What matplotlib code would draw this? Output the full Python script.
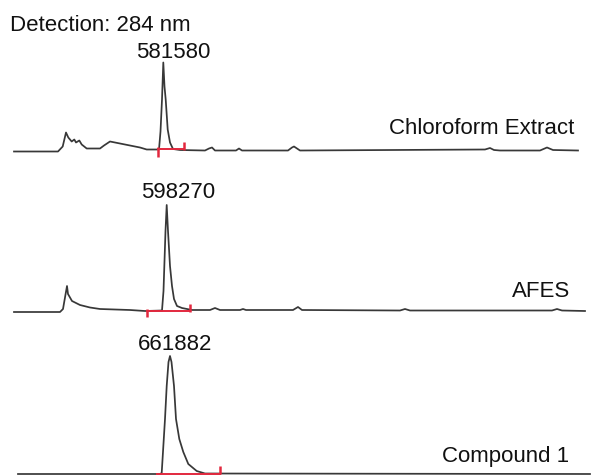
import matplotlib.pyplot as plt

plt.rcParams['font.family'] = ['Liberation Sans', 'DejaVu Sans']

# retention time (arbitrary units along the run) and detector signal for each trace
chloro_rt = [14, 58, 62.7, 66, 68.3, 71.7, 74.3, 76, 79.3, 81.7, 86.7, 100, 104, 110,
             120, 130, 140, 146.7, 155, 159, 160.5, 162, 163.3, 164.5, 165.7,
             167.7, 170, 173, 180, 205, 209, 212, 215, 236, 239, 242, 288, 292, 294,
             297, 300, 485, 490, 494, 500, 540, 547, 553, 578]
chloro_sig = [0, 0, 5, 19, 14, 10, 12, 9, 11, 7, 3, 3, 6, 10,
              8, 6, 4, 2, 2, 2, 20, 52, 89, 65, 52,
              22, 9, 2.5, 1.5, 1, 3, 4, 1, 1, 3, 1, 1, 4, 5,
              3, 1, 2, 3.5, 1.5, 1, 1, 4, 1.5, 1]

afes_rt = [14, 60, 63, 67, 68, 72, 80, 90, 100, 130, 145, 162, 163.5, 165.5, 166.7,
           168, 170, 172, 174, 177, 182, 187, 192, 210, 215, 220, 240, 243, 246,
           293, 298, 302, 400, 405, 410, 552, 557, 562, 585]
afes_sig = [-1, -1, 2, 25, 17, 10, 6, 3.5, 2, 1, 0, 0.5, 20, 80, 106,
            80, 45, 25, 12, 5, 3, 2, 1, 1, 3, 1, 1, 2, 1,
            1, 4, 1, 0.5, 2, 0.5, 0.5, 2, 0.5, 0]

cmpd_rt = [18, 160, 161.7, 165, 166.7, 168.5, 170, 171.5, 174, 176, 179.3, 183.3,
           188.3, 196.7, 205, 590]
cmpd_sig = [0, 0, 1, 55, 88, 112, 118, 112, 88, 55, 35, 22, 10, 3, 0.5, 0]

# integration events (start, end) per trace
chloro_int = [158, 184]
afes_int = [147, 190]
cmpd_int = [157, 220]

labels = ['Chloroform Extract', 'AFES', 'Compound 1']
peak_areas = ['581580', '598270', '661882']

fig = plt.figure(figsize=(5.92, 4.77), dpi=100)
ax = fig.add_axes([0, 0, 1, 1])
ax.set_xlim(0, 592)
ax.set_ylim(477, 0)
ax.set_axis_off()

black = '#383838'
red = '#e2283e'

traces = [(chloro_rt, chloro_sig, 152.5, chloro_int, 2.5),
          (afes_rt, afes_sig, 312, afes_int, 0.5),
          (cmpd_rt, cmpd_sig, 475, cmpd_int, 0.5)]

for rt, sig, base, integ, lvl in traces:
    ax.plot(rt, [base - s for s in sig], color=black, lw=1.25, solid_joinstyle='round')
    ax.plot(integ, [base - lvl, base - lvl], color=red, lw=1.4)

# event markers
ax.plot([chloro_int[0]], [152.5], marker='|', ms=7, mew=1.8, color=red)
ax.plot([chloro_int[1]], [152.5 - 6], marker='|', ms=6, mew=1.8, color=red)
ax.plot([afes_int[0]], [312 + 2], marker='|', ms=6, mew=1.8, color=red)
ax.plot([afes_int[1]], [312 - 3], marker='|', ms=6, mew=1.8, color=red)
ax.plot([cmpd_int[1]], [475 - 4], marker='|', ms=6, mew=1.8, color=red)

fs = 16
ax.text(10.5, 31, 'Detection: 284 nm', fontsize=fs, color='#111111', va='baseline', ha='left')

label_pos = [(574, 134), (570, 297), (569, 462)]
area_pos = [(173, 58), (178, 198), (175.5, 350)]
for lab, (x, y) in zip(labels, label_pos):
    ax.text(x, y, lab, fontsize=fs, color='#111111', ha='right', va='baseline')
for a, (x, y) in zip(peak_areas, area_pos):
    ax.text(x, y, a, fontsize=fs, color='#111111', ha='center', va='baseline')

fig.savefig('out.png', dpi=100)
